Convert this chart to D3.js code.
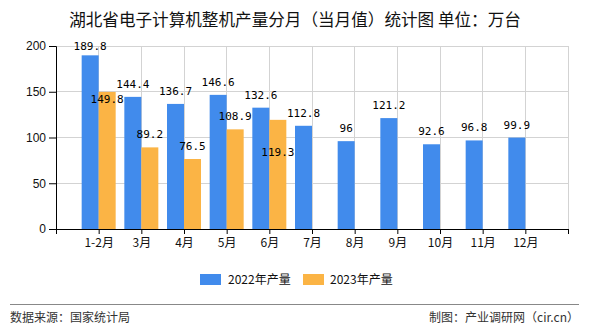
<!DOCTYPE html>
<html><head><meta charset="utf-8">
<script src="https://cdn.jsdelivr.net/npm/d3@7"></script>
<style>
html,body{margin:0;padding:0;background:#fff;}
svg{display:block;}
</style></head>
<body>
<svg id="chart" width="590" height="330"></svg>
<script>
const categories = ["1-2月","3月","4月","5月","6月","7月","8月","9月","10月","11月","12月"];
const values2022 = [189.8,144.4,136.7,146.6,132.6,112.8,96,121.2,92.6,96.8,99.9];
const values2023 = [149.8,89.2,76.5,108.9,119.3,null,null,null,null,null,null];
const seriesNames = ["2022年产量","2023年产量"];
const yTicks = [0,50,100,150,200];

(function(){
const colors = ["#418bec","#fbb445"];
const cjk = "'Noto Sans CJK SC','Liberation Sans',sans-serif";
const svg = d3.select("#chart");
const pLeft = 56, pRight = 568, pTop = 46, pBottom = 229;

const x = d3.scalePoint().domain([""].concat(categories, [" "])).range([pLeft, pRight]);
const y = d3.scaleLinear().domain([0,200]).range([pBottom, pTop]);
const bw = 17;

// title
svg.append("text").attr("x", 295).attr("y", 26).attr("text-anchor","middle")
  .style("font-family", cjk).style("font-size","16.6px").attr("fill","#111")
  .text("湖北省电子计算机整机产量分月（当月值）统计图 单位：万台");

// grid
const g = svg.append("g");
g.selectAll(".hg").data(yTicks.filter(d=>d>0)).enter().append("line")
  .attr("x1", pLeft).attr("x2", pRight).attr("y1", d=>y(d)).attr("y2", d=>y(d))
  .attr("stroke","#d3d3d3").attr("stroke-width",1).attr("shape-rendering","crispEdges");
g.selectAll(".vg").data(x.domain().slice(1)).enter().append("line")
  .attr("x1", d=>x(d)).attr("x2", d=>x(d)).attr("y1", pTop).attr("y2", pBottom)
  .attr("stroke","#d3d3d3").attr("stroke-width",1).attr("shape-rendering","crispEdges");

// bars
const bars = svg.append("g");
bars.selectAll(".b1").data(categories.map((c,i)=>({c, v: values2022[i]}))).enter().append("rect")
  .attr("x", d=>x(d.c)-bw).attr("width", bw)
  .attr("y", d=>y(d.v)).attr("height", d=>pBottom - y(d.v)).attr("fill", colors[0]);
bars.selectAll(".b2").data(categories.map((c,i)=>({c, v: values2023[i]})).filter(d=>d.v!=null)).enter().append("rect")
  .attr("x", d=>x(d.c)).attr("width", bw)
  .attr("y", d=>y(d.v)).attr("height", d=>pBottom - y(d.v)).attr("fill", colors[1]);

// axes
const ya = svg.append("g").attr("transform", `translate(${pLeft},0)`)
  .call(d3.axisLeft(y).tickValues(yTicks).tickSize(7).tickPadding(3));
ya.select(".domain").attr("stroke","#000");
ya.selectAll("text").style("font-family","'Liberation Sans',Arial,sans-serif").style("font-size","12px").attr("fill","#111");
const xa = svg.append("g").attr("transform", `translate(0,${pBottom})`)
  .call(d3.axisBottom(x).tickSize(5).tickPadding(4));
xa.select(".domain").attr("stroke","#000");
xa.selectAll("text").style("font-family", cjk).style("font-size","12px").attr("fill","#111");

// value labels
const labelFont = "'DejaVu Sans Mono','Liberation Mono',monospace";
const orangeDrop = {"1-2月": 20, "6月": 45};
const lab = svg.append("g").style("font-family", labelFont).style("font-size","11px").attr("fill","#000");
categories.forEach((c,i)=>{
  const v = values2022[i];
  lab.append("text").attr("x", x(c)-bw/2).attr("y", Math.max(50, y(v)-9))
    .attr("text-anchor","middle").text(String(v));
  const w = values2023[i];
  if (w != null) {
    lab.append("text").attr("x", x(c)+bw/2).attr("y", Math.max(50, y(w)-9) + (orangeDrop[c]||0))
      .attr("text-anchor","middle").text(String(w));
  }
});

// legend
const leg = svg.append("g");
[[200,228],[303,330]].forEach((p,i)=>{
  leg.append("rect").attr("x", p[0]).attr("y", 274).attr("width", 21).attr("height", 11).attr("fill", colors[i]);
  leg.append("text").attr("x", p[1]).attr("y", 284).style("font-family", cjk).style("font-size","12px")
    .attr("fill","#111").text(seriesNames[i]);
});

// footer
svg.append("line").attr("x1",10).attr("x2",579).attr("y1",304.5).attr("y2",304.5).attr("stroke","#888").attr("stroke-width",1);
svg.append("text").attr("x",10).attr("y",322).style("font-family", cjk).style("font-size","12px").attr("fill","#333")
  .text("数据来源：国家统计局");
svg.append("text").attr("x",579).attr("y",322).attr("text-anchor","end").style("font-family", cjk).style("font-size","12px").attr("fill","#333")
  .text("制图：产业调研网（cir.cn）");
})();
</script>
</body></html>
